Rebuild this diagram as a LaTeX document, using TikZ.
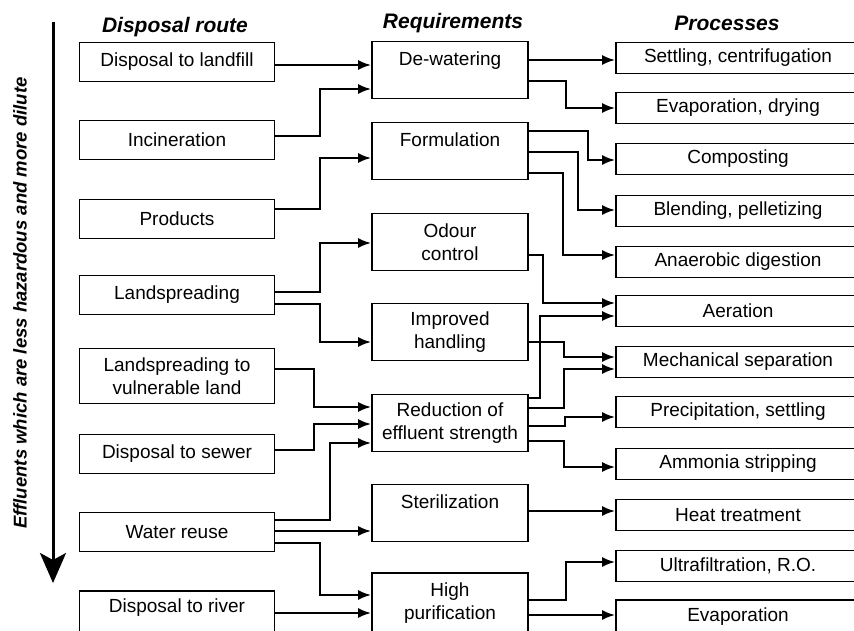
\documentclass[tikz,border=0pt]{standalone}
\usepackage{fontspec}
\setmainfont{Liberation Sans}
\usepackage{tikz}
\usetikzlibrary{arrows.meta}

\begin{document}
\begin{tikzpicture}[x=1pt, y=-1pt,
    box/.style={draw, line width=1.8pt, align=center, inner sep=0pt, font=\fontsize{19}{23}\selectfont},
    route/.style={box, minimum width=195pt, minimum height=39pt},
    need/.style={box, minimum width=156pt, minimum height=57pt},
    proc/.style={box, minimum width=244pt, minimum height=31pt},
    hdr/.style={anchor=base, font=\fontsize{21}{25}\selectfont\bfseries\itshape},
    flow/.style={line width=2pt, -{Latex[length=13pt,width=10pt]}}]
    \useasboundingbox (0,0) rectangle (854,630);
    \clip (0,0) rectangle (854,630);

    \node[hdr] (hroute) at (175,32)   {Disposal route};
    \node[hdr] (hneed)  at (453,28.5) {Requirements};
    \node[hdr] (hproc)  at (727,30)   {Processes};

    \node[rotate=90, font=\fontsize{18.5}{22}\selectfont\bfseries\itshape] (trend) at (20,303)
        {Effluents which are less hazardous and more dilute};
    \coordinate (ttop) at (53,22);
    \coordinate (tbot) at (53,583);
    \draw[line width=3pt, -{Stealth[length=30pt,width=26pt,inset=7pt]}] (ttop) -- (tbot);

    \node[route] (L1) at (177,62)  {Disposal to landfill};
    \node[route] (L2) at (177,140) {Incineration};
    \node[route] (L3) at (177,219) {Products};
    \node[route] (L4) at (177,295) {Landspreading};
    \node[route, minimum height=55pt] (L5) at (177,376) {Landspreading to\\vulnerable land};
    \node[route] (L6) at (177,454) {Disposal to sewer};
    \node[route] (L7) at (177,532) {Water reuse};
    \node[route, minimum height=42pt, text depth=12pt] (L8) at (177,612) {Disposal to river};

    \node[need] (D1) at (450,70)  {De-watering\\ \mbox{}};
    \node[need] (D2) at (450,151) {Formulation\\ \mbox{}};
    \node[need] (D3) at (450,242) {Odour\\control};
    \node[need] (D4) at (450,332) {Improved\\handling};
    \node[need] (D5) at (450,423) {Reduction of\\effluent strength};
    \node[need] (D6) at (450,513) {Sterilization\\ \mbox{}};
    \node[need, minimum height=60pt] (D7) at (450,603) {High\\purification};

    \node[proc] (P1)  at (738,58)  {Settling, centrifugation};
    \node[proc] (P2)  at (738,108) {Evaporation, drying};
    \node[proc] (P3)  at (738,159) {Composting};
    \node[proc] (P4)  at (738,211) {Blending, pelletizing};
    \node[proc] (P5)  at (738,262) {Anaerobic digestion};
    \node[proc] (P6)  at (738,311) {Aeration};
    \node[proc] (P7)  at (738,362) {Mechanical separation};
    \node[proc] (P8)  at (738,412) {Precipitation, settling};
    \node[proc] (P9)  at (738,464) {Ammonia stripping};
    \node[proc] (P10) at (738,515) {Heat treatment};
    \node[proc] (P11) at (738,566) {Ultrafiltration, R.O.};
    \node[proc, minimum height=34pt] (P12) at (738,617) {Evaporation};

    \draw[flow] ([yshift=-3pt]L1.east) -- ([yshift=5pt]D1.west);
    \draw[flow] ([yshift=4pt]L2.east) -- ++(45,0) |- ([yshift=-19pt]D1.west);
    \draw[flow] ([yshift=10pt]L3.east) -- ++(45,0) |- ([yshift=-7pt]D2.west);
    \draw[flow] ([yshift=3pt]L4.east) -- ++(45,0) |- ([yshift=-1pt]D3.west);
    \draw[flow] ([yshift=-9pt]L4.east) -- ++(45,0) |- ([yshift=-10pt]D4.west);
    \draw[flow] ([yshift=7pt]L5.east) -- ++(39,0) |- ([yshift=16pt]D5.west);
    \draw[flow] ([yshift=4pt]L6.east) -- ++(39,0) |- ([yshift=-1pt]D5.west);
    \draw[flow] ([yshift=12pt]L7.east) -- ++(55,0) |- ([yshift=-20pt]D5.west);
    \draw[flow] ([yshift=1pt]L7.east) -- ([yshift=-18pt]D6.west);
    \draw[flow] ([yshift=-11pt]L7.east) -- ++(45,0) |- ([yshift=8pt]D7.west);
    \draw[flow] ([yshift=-1pt]L8.east) -- ([yshift=-10pt]D7.west);

    \draw[flow] ([yshift=10pt]D1.east) -- ([yshift=-2pt]P1.west);
    \draw[flow] ([yshift=-11pt]D1.east) -- ++(37,0) |- (P2.west);
    \draw[flow] ([yshift=20pt]D2.east) -- ++(59,0) |- ([yshift=-1pt]P3.west);
    \draw[flow] ([yshift=-1pt]D2.east) -- ++(49,0) |- ([yshift=1pt]P4.west);
    \draw[flow] ([yshift=-22pt]D2.east) -- ++(34,0) |- ([yshift=7pt]P5.west);
    \draw[flow] ([yshift=-13pt]D3.east) -- ++(14,0) |- ([yshift=8pt]P6.west);
    \draw[flow] ([yshift=25pt]D5.east) -- ++(11,0) |- ([yshift=-5pt]P6.west);
    \draw[flow] ([yshift=-10pt]D4.east) -- ++(35,0) |- ([yshift=5pt]P7.west);
    \draw[flow] ([yshift=15pt]D5.east) -- ++(35,0) |- ([yshift=-7pt]P7.west);
    \draw[flow] ([yshift=-3pt]D5.east) -- ++(36,0) |- ([yshift=-5pt]P8.west);
    \draw[flow] ([yshift=-18pt]D5.east) -- ++(35,0) |- ([yshift=-3pt]P9.west);
    \draw[flow] ([yshift=2pt]D6.east) -- ([yshift=4pt]P10.west);
    \draw[flow] ([yshift=3pt]D7.east) -- ++(37,0) |- ([yshift=4pt]P11.west);
    \draw[flow] ([yshift=-12pt]D7.east) -- ([yshift=2pt]P12.west);
\end{tikzpicture}
\end{document}
